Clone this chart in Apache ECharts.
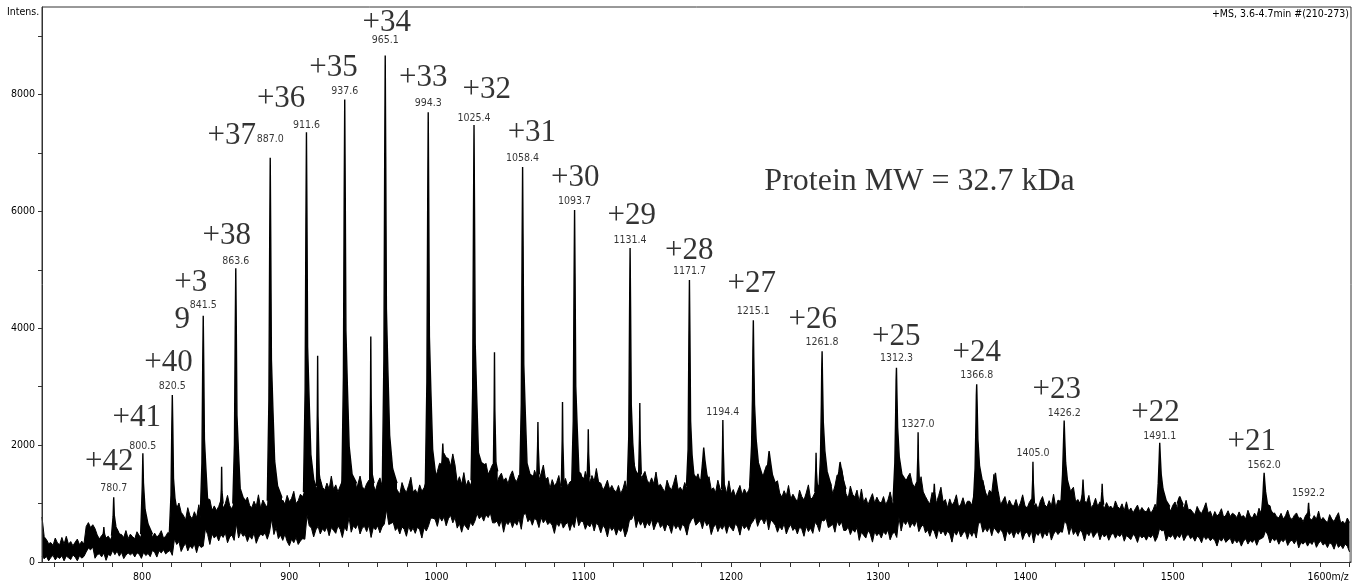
<!DOCTYPE html>
<html><head><meta charset="utf-8">
<script src="https://cdn.jsdelivr.net/npm/echarts@6/dist/echarts.min.js"></script>
<style>html,body{margin:0;padding:0;background:#fff}#c{width:1359px;height:588px}</style>
</head><body><div id="c"></div>
<script>
// ---------- DATA ----------
const xTickValues = [740,760,780,800,820,840,860,880,900,920,940,960,980,1000,1020,1040,1060,1080,1100,1120,1140,1160,1180,1200,1220,1240,1260,1280,1300,1320,1340,1360,1380,1400,1420,1440,1460,1480,1500,1520,1540,1560,1580,1600,1620];
const xLabelValues = [800,900,1000,1100,1200,1300,1400,1500,1600];
const yTickValues = [0,1000,2000,3000,4000,5000,6000,7000,8000,9000];
const yLabelValues = [0,2000,4000,6000,8000];

// noise band (upper and lower edge) sampled every 1.5 m/z from 732
const noiseStartMz = 732;
const noiseStepMz = 1.5;
const noiseUpper = [
770,432,386,314,332,284,410,326,296,420,308,440,302,350,278,338,392,296,356,308,
608,674,590,638,572,464,394,454,490,412,442,382,466,514,560,476,472,418,538,400,
476,434,398,518,452,416,648,692,502,486,424,494,428,464,536,410,440,506,482,530,
1040,920,1010,850,800,720,930,790,740,860,760,980,750,900,1030,1080,1070,880,960,880,
950,1060,920,1000,1140,960,910,1010,1300,1120,1120,970,1030,1110,970,930,1040,950,1150,920,
1060,990,930,1130,1420,1260,1280,1270,1020,1060,990,1140,1030,1090,1210,1000,1050,1160,1120,1200,
1640,1420,1460,1260,1290,1210,1420,1280,1230,1350,1250,1470,1240,1320,1200,1300,1390,1230,1330,1480,
1280,1390,1250,1330,1470,1290,1240,1340,1400,1270,1320,1220,1360,1440,1300,1460,1770,1530,1630,1350,
1290,1220,1160,1360,1250,1190,1310,1450,1200,1240,1170,1320,1210,1270,1390,1180,1650,1660,1420,1550,
1690,1670,1860,1790,1770,1640,1850,1660,1360,1460,1330,1530,1300,1400,1310,1430,1920,1710,1760,1680,
1630,1690,1500,1580,1670,1410,1360,1460,1520,1390,1440,1340,1480,1560,1420,1380,1490,1400,1930,1600,
1500,1430,1370,1570,1460,1400,1520,1660,1410,1450,1260,1410,1300,1360,1480,1270,1320,1430,1290,1370,
1390,1370,1760,1540,1520,1340,1550,1410,1360,1480,1380,1600,1370,1350,1230,1300,1400,1240,1310,1230,
1200,1310,1170,1250,1390,1210,1340,1690,1700,1520,1520,1340,1480,1550,1400,1340,1440,1340,1540,1300,
1330,1260,1200,1400,1290,1230,1350,1490,1240,1280,1210,1360,1250,1310,1660,1400,1420,1510,1370,1470,
1490,1370,1460,1240,1270,1190,1400,1260,1210,1330,1170,1390,1160,1240,1120,1220,1310,1150,1250,1170,
1230,1390,1350,1630,1670,1390,1390,1540,1650,1470,1470,1320,1360,1390,1180,1110,1220,1130,1310,1080,
1160,1090,1030,1230,1120,1060,1180,1320,1070,1110,1190,1340,1280,1440,1660,1350,1300,1360,1170,1300,
1490,1470,1610,1390,1170,1090,1300,1160,1110,1230,1030,1250,1020,1100,980,1080,1170,1010,1110,1030,
1010,1120,980,1060,1200,1020,970,1070,1550,1370,1400,1270,1460,1520,1350,1280,1370,1280,1460,1200,
1120,1050,990,1190,1080,1020,1140,1280,1030,1070,930,1080,970,1030,1150,940,990,1100,960,1040,
1040,970,1160,1090,1470,1290,1400,1210,1110,1230,1180,1500,1220,1200,980,1050,1120,960,1060,980,
960,1070,930,1010,1150,970,920,1020,1080,950,1000,900,1040,1120,980,940,1050,960,1160,930,
1060,1040,1080,1530,1320,1160,1230,1280,1030,1070,1000,1150,1040,1020,1140,930,980,1090,950,1030,
968,919,1017,933,954,898,1045,947,912,996,876,1030,869,925,841,911,974,862,932,876,
856,933,835,891,989,863,958,1228,1170,979,944,874,972,1028,930,902,979,916,1056,895,
902,853,811,951,874,832,916,1014,839,867,758,863,786,828,912,765,800,877,779,835,
808,759,857,773,794,738,885,787,752,836,766,920,829,985,1001,971,964,792,842,776,
756,833,735,791,889,763,728,798,840,749,759,689,787,843,745,717,794,731,871,710,
762,713,671,811,734,692,776,844,669,697,648,753,676
];
const noiseLower = [
102,54,96,20,78,114,36,90,60,108,20,102,72,42,120,84,20,108,66,96,
172,238,208,256,64,124,142,88,154,28,130,106,198,126,186,100,166,58,118,154,
122,152,86,158,134,62,164,110,146,92,198,168,84,192,156,210,138,174,198,114,
400,300,350,180,260,320,190,280,230,310,160,300,250,270,570,470,300,480,410,460,
360,470,420,500,330,430,460,370,660,410,520,440,470,350,450,390,500,320,420,480,
450,500,390,510,740,470,590,400,460,370,480,350,280,390,330,420,300,360,400,390,
800,620,580,430,550,610,480,570,520,600,450,590,540,490,620,560,420,600,530,770,
510,620,570,650,480,580,610,520,630,420,590,550,620,500,600,650,900,640,660,680,
540,590,480,600,560,440,610,520,580,490,600,550,410,590,530,620,750,750,730,610,
780,700,770,620,740,800,670,760,580,660,510,650,600,550,680,620,700,830,740,790,
700,810,760,840,670,670,700,610,720,510,680,640,710,590,690,630,740,560,810,830,
690,740,630,750,710,590,760,670,730,640,680,630,490,670,610,700,580,640,680,540,
670,590,810,620,700,690,560,650,600,680,530,670,620,500,630,570,430,610,540,590,
460,570,520,600,430,530,720,730,820,590,720,630,700,580,680,620,730,550,650,710,
590,640,530,650,610,490,660,570,630,540,650,600,460,640,720,770,630,670,710,570,
720,620,670,470,590,650,520,610,560,640,490,630,580,530,660,600,460,640,570,620,
540,650,700,780,610,710,740,650,760,550,720,680,630,510,610,550,660,480,580,640,
540,590,480,600,560,440,610,520,580,490,680,630,520,720,700,750,590,610,650,510,
700,620,690,540,540,600,470,560,510,590,370,510,460,410,540,480,340,520,450,500,
410,520,470,550,380,480,510,420,760,530,700,640,710,590,670,610,710,520,600,640,
500,550,440,560,520,400,570,480,540,450,530,480,340,520,460,550,430,490,530,390,
520,440,530,410,660,680,510,580,520,600,450,590,540,490,560,500,360,540,470,520,
415,525,475,555,385,485,515,425,535,325,495,455,525,405,505,445,555,375,475,535,
470,520,510,710,640,470,610,470,530,440,550,500,360,510,450,540,420,480,520,380,
484,428,477,372,456,498,407,470,435,491,356,454,419,384,475,433,335,461,412,447,
374,451,416,472,353,423,574,531,548,361,450,422,471,387,457,415,492,366,436,478,
399,434,357,441,413,329,448,385,427,364,406,371,273,399,357,420,336,378,406,308,
384,328,377,272,356,398,307,370,335,391,286,384,399,424,535,463,325,411,362,397,
304,381,346,402,283,353,374,311,388,241,335,307,356,272,342,300,377,251,321,363,
289,324,247,331,303,219,338,250,292,229,306,271,173
];

// peak profiles [m/z, intensity]
const peakShapes = [
[[773.2,420],[773.8,520],[774,600],[774.3,500],[775,420]],
[[779.2,450],[780.3,780],[780.7,1110],[781.1,800],[782.2,600],[785,450]],
[[799,480],[800.1,1300],[800.5,1863],[800.9,1350],[802,900],[804,650],[807,480]],
[[818.5,500],[819.6,1140],[820.15,2290],[820.5,2857],[820.85,2290],[821.3,1430],[822.3,1090],[823.5,900],[825.5,800],[828.5,700]],
[[839.5,800],[840.6,1685],[841.15,3370],[841.5,4213],[841.85,3370],[842.3,2100],[843.3,1600],[844.5,1050],[846.5,900],[849.5,850]],
[[853.2,950],[853.8,1250],[854,1630],[854.25,1200],[855,1000]],
[[861.6,1000],[862.7,2010],[863.25,4020],[863.6,5026],[863.95,4020],[864.4,2510],[865.4,1910],[866.6,1260],[868.6,1100],[871.6,1000]],
[[885,1050],[886.1,2770],[886.65,5530],[887,6918],[887.35,5530],[887.8,3460],[888.8,2630],[890,1730],[892,1300],[895,1100]],
[[909.6,1200],[910.7,2940],[911.25,5880],[911.6,7356],[911.95,5880],[912.4,3680],[913.4,2800],[914.6,1840],[916.6,1400],[918,1300]],
[[918.4,1300],[919,2600],[919.2,3530],[919.45,2500],[920.3,1500],[921.5,1300]],
[[935.6,1250],[936.7,3170],[937.25,6330],[937.6,7918],[937.95,6330],[938.4,3960],[939.4,3010],[940.6,1980],[942.6,1500],[945.6,1350]],
[[954.5,1300],[955.1,2900],[955.3,3860],[955.55,2800],[956.3,1500],[957.5,1350]],
[[963.1,1300],[964.2,3470],[964.75,6930],[965.1,8668],[965.45,6930],[965.9,4330],[966.9,3290],[968.1,2170],[970.1,1600],[973.1,1350]],
[[992.3,1250],[993.4,3080],[993.95,6160],[994.3,7700],[994.65,6160],[995.1,3850],[996.1,2930],[997.3,1930],[999.3,1500],[1002.3,1500]],
[[1003.4,1600],[1004,1900],[1004.2,2030],[1004.5,1850],[1005.2,1700]],
[[1023.4,1400],[1024.5,2990],[1025.05,5980],[1025.4,7481],[1025.75,5980],[1026.2,3740],[1027.2,2840],[1028.4,1870],[1030.4,1700],[1033.4,1650]],
[[1038.5,1500],[1039.1,2700],[1039.3,3592],[1039.55,2600],[1040.3,1700],[1041.5,1550]],
[[1056.4,1350],[1057.5,2700],[1058.05,5410],[1058.4,6762],[1058.75,5410],[1059.2,3380],[1060.2,2570],[1061.4,1690],[1063.4,1500],[1066.4,1450]],
[[1068,1450],[1068.6,2000],[1068.8,2397],[1069.05,1950],[1069.8,1500]],
[[1084.7,1300],[1085.3,2100],[1085.5,2740],[1085.75,2050],[1086.5,1350]],
[[1091.7,1300],[1092.8,2410],[1093.35,4820],[1093.7,6025],[1094.05,4820],[1094.5,3010],[1095.5,2290],[1096.7,1510],[1098.7,1450],[1101.7,1400]],
[[1102.2,1400],[1102.8,1900],[1103,2273],[1103.25,1850],[1104,1450]],
[[1129.4,1250],[1130.5,2150],[1131.05,4300],[1131.4,5375],[1131.75,4300],[1132.2,2690],[1133.2,2040],[1134.4,1600],[1136.4,1500],[1139.4,1450]],
[[1137.2,1500],[1137.8,2200],[1138,2720],[1138.25,2100],[1139,1500]],
[[1169.7,1300],[1170.8,1930],[1171.35,3860],[1171.7,4826],[1172.05,3860],[1172.5,2410],[1173.5,1830],[1174.7,1500],[1176.7,1420],[1179.7,1400]],
[[1179.5,1400],[1180.6,1700],[1181.4,1960],[1182.2,1750],[1183.5,1500],[1185,1350]],
[[1193.6,1250],[1194.2,2000],[1194.4,2432],[1194.65,1950],[1195.4,1300]],
[[1212.6,1300],[1213.9,2000],[1214.5,2800],[1214.8,3600],[1215.1,4139],[1215.4,3500],[1215.9,2700],[1217,2100],[1218.5,1700],[1221,1500],[1224,1400]],
[[1224,1450],[1225,1700],[1225.8,1898],[1226.6,1750],[1228,1500],[1230,1350]],
[[1256.9,1200],[1257.5,1600],[1257.7,1868],[1257.95,1550],[1258.7,1250]],
[[1259.5,1150],[1260.7,1800],[1261.3,2700],[1261.55,3300],[1261.8,3608],[1262.1,3100],[1262.6,2400],[1263.7,1900],[1265.2,1550],[1268,1300]],
[[1272,1350],[1273.2,1550],[1274,1712],[1274.8,1600],[1276.2,1400],[1278,1250]],
[[1310,1050],[1311.2,1700],[1311.8,2600],[1312.05,3100],[1312.3,3326],[1312.6,2900],[1313.1,2300],[1314.2,1800],[1316,1500],[1318.5,1400],[1321,1450]],
[[1326.2,1300],[1326.8,1800],[1327,2220],[1327.25,1750],[1328,1300]],
[[1337.3,1050],[1337.8,1250],[1338,1340],[1338.3,1200],[1339,1050]],
[[1364.5,1000],[1365.7,1600],[1366.3,2400],[1366.55,2850],[1366.8,3044],[1367.1,2700],[1367.6,2100],[1368.7,1650],[1370.5,1400],[1373,1150]],
[[1378,1200],[1379,1420],[1379.5,1525],[1380.1,1400],[1381.5,1150]],
[[1404.2,1000],[1404.8,1400],[1405,1714],[1405.25,1350],[1406,1000]],
[[1424,1000],[1425.1,1500],[1425.7,2000],[1426.2,2421],[1426.6,2100],[1427.2,1700],[1428.4,1400],[1430.5,1200],[1433,1050]],
[[1438.2,1050],[1438.8,1300],[1439,1413],[1439.3,1250],[1440,1050]],
[[1451.2,1000],[1451.8,1200],[1452,1339],[1452.3,1150],[1453,980]],
[[1489,900],[1490.1,1350],[1490.7,1750],[1491.1,2040],[1491.5,1800],[1492.1,1500],[1493.3,1250],[1495.5,1050],[1498,950]],
[[1503,1000],[1504,1080],[1504.7,1120],[1505.5,1070],[1507,980]],
[[1560,780],[1561.1,1100],[1561.6,1350],[1562,1527],[1562.4,1380],[1563,1200],[1564.2,1000],[1566.5,880],[1569,800]],
[[1591.5,760],[1592,950],[1592.2,1013],[1592.45,900],[1593,780]]
];

// peak m/z labels: [m/z, label anchor intensity]
const peakLabels = [
[780.7,1263],[800.5,1982],[820.5,3013],[841.5,4388],[863.6,5150],[887.0,7231],
[911.6,7481],[937.6,8062],[965.1,8933],[994.3,7844],[1025.4,7597],[1058.4,6906],
[1093.7,6168],[1131.4,5513],[1171.7,4982],[1194.4,2558],[1215.1,4294],[1261.8,3763],
[1312.3,3482],[1327.0,2359],[1366.8,3201],[1405.0,1858],[1426.2,2547],[1491.1,2157],
[1562.0,1657],[1592.2,1171]
];

// charge-state labels: [text, m/z, intensity]
const chargeLabels = [
['+42',777.6,1712],['+41',796.4,2465],['+40',817.9,3406],['+3',833.1,4776],['9',827.3,4142],
['+38',857.5,5580],['+37',860.9,7295],['+36',894.4,7920],['+35',929.9,8452],['+34',966.2,9233],
['+33',991.0,8295],['+32',1034.1,8077],['+31',1064.7,7340],['+30',1094.1,6578],['+29',1132.6,5922],
['+28',1171.5,5329],['+27',1214.1,4765],['+26',1255.5,4142],['+25',1312.1,3860],['+24',1366.9,3577],
['+23',1421.2,2954],['+22',1488.3,2560],['+21',1553.6,2049]
];

const noteText = ['Protein MW = 32.7 kDa', 1328.0, 6504];

// ---------- CHART ----------
const SMALL = "'DejaVu Sans Condensed','Liberation Sans Narrow','Arial Narrow',sans-serif";
const SMALL_SIZE = 10.5;
const SERIF = "'Liberation Serif','Times New Roman',serif";
const AX = '#333';

const upperData = noiseUpper.map((v, i) => [noiseStartMz + i * noiseStepMz, v]);
const lowerData = noiseLower.map((v, i) => [noiseStartMz + i * noiseStepMz, v]);

const series = [];
series.push({
  type: 'line', data: upperData, symbol: 'none', silent: true, z: 2,
  lineStyle: { color: '#000', width: 1 }, areaStyle: { color: '#000', opacity: 1 }
});
peakShapes.forEach(pts => series.push({
  type: 'line', data: pts, symbol: 'none', silent: true, z: 3,
  lineStyle: { color: '#000', width: 1.4 }, areaStyle: { color: '#000', opacity: 1 }
}));
series.push({
  type: 'line', data: lowerData, symbol: 'none', silent: true, z: 4,
  lineStyle: { color: '#000', width: 1 }, areaStyle: { color: '#fff', opacity: 1 }
});
series.push({
  type: 'scatter', silent: true, z: 6, symbolSize: 1, itemStyle: { color: 'rgba(0,0,0,0)' },
  data: peakLabels.map(p => ({ value: [p[0], p[1]], name: p[0].toFixed(1) })),
  label: { show: true, position: 'inside', formatter: p => p.name, color: '#000', fontSize: SMALL_SIZE, fontFamily: SMALL }
});
series.push({
  type: 'scatter', silent: true, z: 6, symbolSize: 1, itemStyle: { color: 'rgba(0,0,0,0)' },
  data: chargeLabels.map(c => ({ value: [c[1], c[2]], name: c[0] })),
  label: { show: true, position: 'inside', formatter: p => p.name, color: '#000', fontSize: 31, fontFamily: SERIF }
});
series.push({
  type: 'scatter', silent: true, z: 6, symbolSize: 1, itemStyle: { color: 'rgba(0,0,0,0)' },
  data: [{ value: [noteText[1], noteText[2]], name: noteText[0] }],
  label: { show: true, position: 'inside', formatter: p => p.name, color: '#000', fontSize: 32, fontFamily: SERIF }
});

const chart = echarts.init(document.getElementById('c'), null, { renderer: 'canvas' });
chart.setOption({
  animation: false,
  backgroundColor: '#fff',
  title: [
    { text: 'Intens.', left: 7, top: 7, padding: 0, textStyle: { fontSize: SMALL_SIZE, fontWeight: 'normal', fontFamily: SMALL, color: '#000' } },
    { text: '+MS, 3.6-4.7min #(210-273)', right: 10, top: 9, padding: 0, textStyle: { fontSize: SMALL_SIZE, fontWeight: 'normal', fontFamily: SMALL, color: '#000' } }
  ],
  grid: { left: 42, right: 8, top: 7, bottom: 26, show: true, borderColor: AX, borderWidth: 1, backgroundColor: 'transparent' },
  xAxis: {
    type: 'value', min: 732, max: 1621, z: 10,
    axisLine: { show: true, lineStyle: { color: AX, width: 1 } },
    axisTick: { show: true, length: 5, inside: false, customValues: xTickValues, lineStyle: { color: AX } },
    axisLabel: {
      customValues: xLabelValues, margin: 10, color: '#000', fontSize: SMALL_SIZE, fontFamily: SMALL,
      formatter: v => v === 1600 ? '{u|1600m/z}' : String(v),
      rich: { u: { padding: [0, 0, 0, 16], fontSize: SMALL_SIZE, fontFamily: SMALL, color: '#000' } }
    },
    splitLine: { show: false }
  },
  yAxis: {
    type: 'value', min: 0, max: 9500, z: 10,
    axisLine: { show: true, lineStyle: { color: AX, width: 1 } },
    axisTick: { show: true, length: 4, inside: false, customValues: yTickValues, lineStyle: { color: AX } },
    axisLabel: { customValues: yLabelValues, margin: 7, color: '#000', fontSize: SMALL_SIZE, fontFamily: SMALL, formatter: v => String(v) },
    splitLine: { show: false }
  },
  series: series
});
</script></body></html>
